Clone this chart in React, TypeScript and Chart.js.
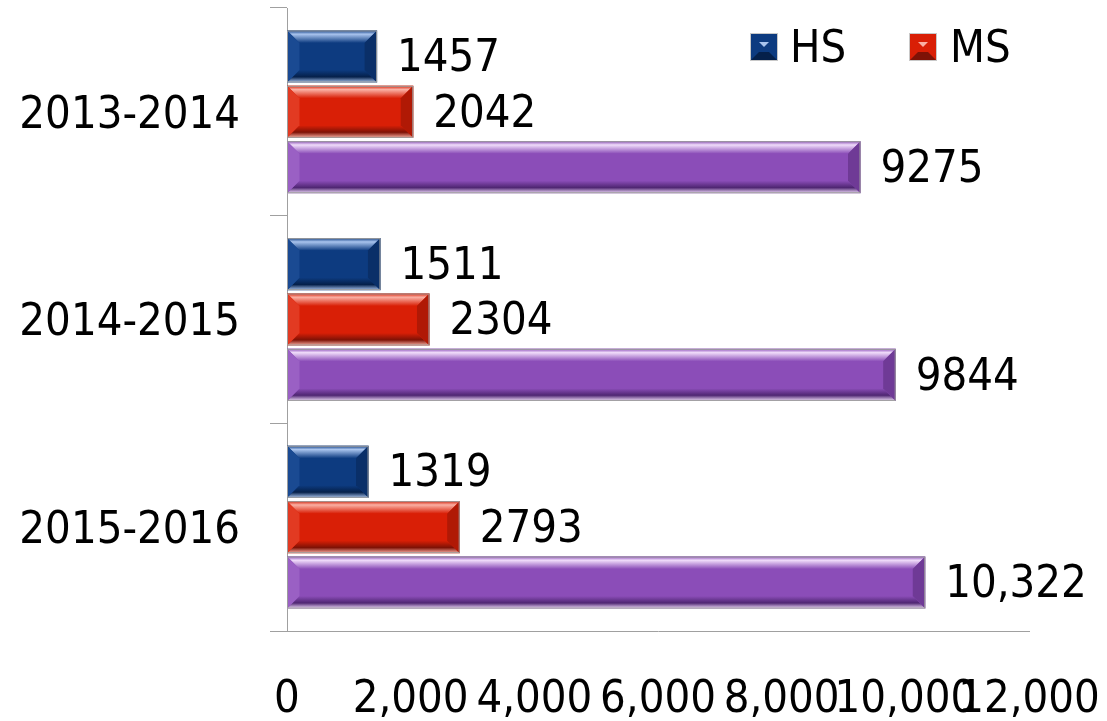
import React, { useEffect, useRef } from "react";
import { Chart, registerables } from "chart.js";

Chart.register(...registerables);

const CATEGORIES = ["2013-2014", "2014-2015", "2015-2016"];
const HS_VALUES = [1457, 1511, 1319];
const MS_VALUES = [2042, 2304, 2793];
const TOTAL_VALUES = [9275, 9844, 10322];
const X_MIN = 0;
const X_MAX = 12000;
const X_STEP = 2000;

const FONT_FAMILY = '"DejaVu Sans Condensed", "DejaVu Sans", sans-serif';
const FONT_SIZE = 45;

type Shade = { base: string; light: string; dark: string; end: string; start: string };
const SHADES: Shade[] = [
  { base: "#0D3B80", light: "#A9C4EE", dark: "#05204A", end: "#0A2F68", start: "#1A4A92" },
  { base: "#D91F06", light: "#FAB0A4", dark: "#7E1206", end: "#B01905", start: "#E23A22" },
  { base: "#8B4DB8", light: "#F0DCFA", dark: "#4F2672", end: "#6F3A96", start: "#9A60C4" },
];

const fmtLabel = (v: number) => (v >= 10000 ? v.toLocaleString("en-US") : String(v));

const bevelPlugin = {
  id: "bevel",
  afterDatasetsDraw(chart: any) {
    const ctx = chart.ctx as CanvasRenderingContext2D;
    chart.data.datasets.forEach((ds: any, di: number) => {
      const meta = chart.getDatasetMeta(di);
      const sh = SHADES[di];
      meta.data.forEach((el: any) => {
        const p = el.getProps(["x", "y", "base", "height"], true);
        const left = Math.min(p.base, p.x);
        const right = Math.max(p.base, p.x);
        const top = p.y - p.height / 2;
        const bottom = p.y + p.height / 2;
        const b = Math.min(p.height * 0.24, 13, (right - left) / 2);
        ctx.save();
        let g = ctx.createLinearGradient(0, top, 0, top + b);
        g.addColorStop(0, sh.base);
        g.addColorStop(0.3, sh.light);
        g.addColorStop(1, sh.base);
        ctx.fillStyle = g;
        ctx.beginPath();
        ctx.moveTo(left, top);
        ctx.lineTo(right, top);
        ctx.lineTo(right - b, top + b);
        ctx.lineTo(left + b, top + b);
        ctx.closePath();
        ctx.fill();
        g = ctx.createLinearGradient(0, bottom - b, 0, bottom);
        g.addColorStop(0, sh.base);
        g.addColorStop(0.55, sh.dark);
        g.addColorStop(1, sh.light);
        ctx.fillStyle = g;
        ctx.beginPath();
        ctx.moveTo(left, bottom);
        ctx.lineTo(right, bottom);
        ctx.lineTo(right - b, bottom - b);
        ctx.lineTo(left + b, bottom - b);
        ctx.closePath();
        ctx.fill();
        ctx.fillStyle = sh.end;
        ctx.beginPath();
        ctx.moveTo(right, top);
        ctx.lineTo(right, bottom);
        ctx.lineTo(right - b, bottom - b);
        ctx.lineTo(right - b, top + b);
        ctx.closePath();
        ctx.fill();
        ctx.fillStyle = sh.start;
        ctx.beginPath();
        ctx.moveTo(left, top);
        ctx.lineTo(left, bottom);
        ctx.lineTo(left + b, bottom - b);
        ctx.lineTo(left + b, top + b);
        ctx.closePath();
        ctx.fill();
        ctx.strokeStyle = "#9c9c9c";
        ctx.lineWidth = 1;
        ctx.strokeRect(left + 0.5, top + 0.5, right - left - 1, bottom - top - 1);
        ctx.restore();
      });
    });
  },
};

const labelPlugin = {
  id: "valueLabels",
  afterDatasetsDraw(chart: any) {
    const ctx = chart.ctx as CanvasRenderingContext2D;
    ctx.save();
    ctx.font = `${FONT_SIZE}px ${FONT_FAMILY}`;
    ctx.fillStyle = "#000";
    ctx.textAlign = "left";
    ctx.textBaseline = "middle";
    chart.data.datasets.forEach((ds: any, di: number) => {
      const meta = chart.getDatasetMeta(di);
      meta.data.forEach((el: any, i: number) => {
        const p = el.getProps(["x", "y"], true);
        ctx.fillText(fmtLabel(ds.data[i]), p.x + 20, p.y + 3);
      });
    });
    ctx.restore();
  },
};

const legendPlugin = {
  id: "customLegend",
  afterDraw(chart: any) {
    const ctx = chart.ctx as CanvasRenderingContext2D;
    const items = [
      { ds: 0, box: 750, text: 790 },
      { ds: 1, box: 909, text: 950 },
    ];
    ctx.save();
    ctx.font = `${FONT_SIZE}px ${FONT_FAMILY}`;
    ctx.textBaseline = "middle";
    ctx.textAlign = "left";
    items.forEach((it) => {
      const sh = SHADES[it.ds];
      const x = it.box, y = 33, s = 28, b = 9;
      ctx.fillStyle = sh.base;
      ctx.fillRect(x, y, s, s);
      ctx.fillStyle = sh.light;
      ctx.beginPath();
      ctx.moveTo(x + b, y + b);
      ctx.lineTo(x + s - b, y + b);
      ctx.lineTo(x + s / 2, y + s / 2);
      ctx.closePath();
      ctx.fill();
      ctx.fillStyle = sh.dark;
      ctx.beginPath();
      ctx.moveTo(x, y + s);
      ctx.lineTo(x + s, y + s);
      ctx.lineTo(x + s - b, y + s - b);
      ctx.lineTo(x + b, y + s - b);
      ctx.closePath();
      ctx.fill();
      ctx.strokeStyle = "#c8c8c8";
      ctx.lineWidth = 1;
      ctx.strokeRect(x + 0.5, y + 0.5, s - 1, s - 1);
      ctx.fillStyle = "#000";
      ctx.fillText(chart.data.datasets[it.ds].label, it.text, y + s / 2 + 3);
    });
    ctx.restore();
  },
};

const zeroPad = (s: any) => {
  s.paddingTop = 0;
  s.paddingBottom = 0;
  s.paddingLeft = 0;
  s.paddingRight = 0;
};

export default function App() {
  const canvasRef = useRef<HTMLCanvasElement | null>(null);

  useEffect(() => {
    if (!canvasRef.current) return;
    const chart = new Chart(canvasRef.current, {
      type: "bar",
      data: {
        labels: CATEGORIES,
        datasets: [
          { label: "HS", data: HS_VALUES, backgroundColor: SHADES[0].base },
          { label: "MS", data: MS_VALUES, backgroundColor: SHADES[1].base },
          { label: "Total", data: TOTAL_VALUES, backgroundColor: SHADES[2].base },
        ],
      },
      options: {
        indexAxis: "y",
        animation: false,
        responsive: true,
        maintainAspectRatio: false,
        datasets: { bar: { categoryPercentage: 0.8, barPercentage: 0.94 } },
        layout: { padding: { top: 8, right: 78, left: 0, bottom: 0 } },
        plugins: { legend: { display: false }, tooltip: { enabled: false } },
        scales: {
          x: {
            min: X_MIN,
            max: X_MAX,
            afterFit: (s: any) => {
              s.height = 90;
              zeroPad(s);
            },
            grid: { display: false, drawTicks: false },
            border: { display: true, color: "#a0a0a0", width: 1 },
            ticks: {
              stepSize: X_STEP,
              autoSkip: false,
              maxRotation: 0,
              minRotation: 0,
              padding: 42,
              color: "#000",
              font: { family: FONT_FAMILY, size: FONT_SIZE },
              callback: (v: any) => Number(v).toLocaleString("en-US"),
            },
          },
          y: {
            afterFit: (s: any) => {
              s.width = 287;
              zeroPad(s);
            },
            grid: {
              offset: true,
              drawOnChartArea: false,
              drawTicks: true,
              tickLength: 17,
              color: "#a0a0a0",
            },
            border: { display: true, color: "#a0a0a0", width: 1 },
            ticks: {
              padding: 30,
              labelOffset: 4,
              color: "#000",
              font: { family: FONT_FAMILY, size: FONT_SIZE },
            },
          },
        },
      },
      plugins: [bevelPlugin, labelPlugin, legendPlugin],
    });
    return () => chart.destroy();
  }, []);

  return (
    <div style={{ position: "absolute", left: 0, top: 0, width: 1107, height: 721, background: "#fff" }}>
      <canvas ref={canvasRef} />
    </div>
  );
}
